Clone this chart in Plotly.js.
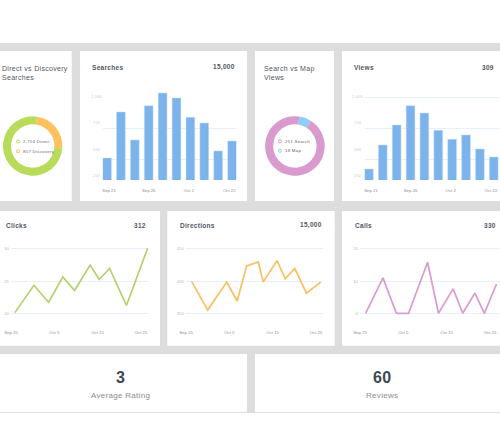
<!DOCTYPE html>
<html><head><meta charset="utf-8">
<script src="https://cdn.plot.ly/plotly-3.0.1.min.js"></script>
<style>
html,body{margin:0;padding:0;background:#fff}
#chart{width:500px;height:442px}
.annotation-text{letter-spacing:.3px}
</style></head><body><div id="chart"></div>
<script>
const barTicks = ["Sep 21","Sep 26","Oct 2","Oct 22"];
const barTickPos = [0.15,3.0,5.9,8.8];
const barIdx = [0,1,2,3,4,5,6,7,8,9];
const searches = [508,879,653,930,1032,992,836,790,565,645];
const views = [419,613,774,930,871,731,659,694,581,516];
const searchGrid = [750,500];
const viewGrid = [1000,750,500];
const barLabels = ["1,000","750","500","250"];

const lineTicks = ["Sep 25","Oct 5","Oct 15","Oct 25"];
const lineTickPos = [0,10,20,30];

const clickDays = [0.9,5.3,8.7,12,14.7,18.3,20.4,22.8,26.7,31.6];
const clicks = [20.1,24.3,21.7,25.6,23.5,27.4,25.2,26.9,21.2,30];
const clickTicks = [20,24.9,30], clickTickText = ["20","25","30"];

const dirDays = [1.3,5,9.4,11.8,14,15,16.7,17.8,21,22.9,25.1,27.8,31.1];
const directions = [399,355,398,369,423,425,429,398,431,403,419,381,398];
const dirTicks = [350,398.6,450], dirTickText = ["350","400","450"];

const callDays = [1.3,5.3,8.4,11.2,15.6,18.1,21.5,23.7,26.5,28.7,31.5];
const calls = [0,10.9,0,0,15.7,0,7.5,0,6.2,0,9];
const callTicks = [0,9.7,20], callTickText = ["0","10","20"];

const directLabels = ["857 Discovery","2,714 Direct"];
const directValues = [857,2714];
const mapLabels = ["18 Map","251 Search"];
const mapValues = [18,251];

const GREEN="#b8dc5a", ORANGE="#fdc25f", PINK="#d99ace", SKY="#8ccdfb", BLUE="#7bb3ea";
const GRID="#e8eff8", DARK="#505862";

const W=500,H=442;
const dx=(a,b)=>[a/W,b/W];
const dy=(top,bottom)=>[1-bottom/H,1-top/H];
const traces=[],shapes=[],annotations=[];
const layout={width:W,height:H,margin:{l:0,r:0,t:0,b:0},paper_bgcolor:"#fff",plot_bgcolor:"rgba(0,0,0,0)",
  showlegend:false,hovermode:false,font:{family:"Liberation Sans, Arial, sans-serif"},shapes,annotations};

function rect(x0,y0,x1,y1,color){shapes.push({type:"rect",xref:"paper",yref:"paper",layer:"below",
  x0:x0/W,x1:x1/W,y0:1-y1/H,y1:1-y0/H,fillcolor:color,line:{width:0}});}
function text(t,x,y,size,color,anchor,bold){annotations.push({text:bold?"<b>"+t+"</b>":t,xref:"paper",yref:"paper",x:x/W,y:1-y/H,
  xanchor:anchor||"left",yanchor:"middle",showarrow:false,font:{size,color},borderpad:0});}

rect(0,43,500,413,"#dddddd");
[[-5,51,71.7,201],[80,51,247,201],[255,51,334,201],[342,51,505,201],
 [-5,211,160,345.7],[167.3,211,334.7,345.7],[342,211,505,345.7],
 [-5,354,247,412],[255,354,505,412]].forEach(c=>rect(c[0],c[1],c[2],c[3],"#fff"));

function axisPair(n,xa,ya){const s=n===1?"":n;layout["xaxis"+s]=Object.assign({anchor:"y"+s,showline:false,zeroline:false,showgrid:false,ticklen:0,fixedrange:true},xa);
 layout["yaxis"+s]=Object.assign({anchor:"x"+s,showline:false,zeroline:false,showgrid:true,gridcolor:GRID,gridwidth:1,ticklen:0,fixedrange:true},ya);}

function barChart(n,vals,grid,left,right,xmax,labelX){
 const s=n===1?"":n;
 traces.push({type:"bar",x:barIdx,y:vals,xaxis:"x"+s,yaxis:"y"+s,marker:{color:BLUE,line:{color:"#c6dcf4",width:0.5}},hoverinfo:"skip"});
 axisPair(n,{domain:dx(left,right),range:[-0.31,xmax],tickmode:"array",tickvals:barTickPos,ticktext:barTicks,
   tickfont:{size:4.3,color:"#8d8d8d"},ticklabelstandoff:7},
  {domain:dy(90,180),range:[330.6,1056.5],tickmode:"array",tickvals:grid,showticklabels:false});
 [97,123,150,176].forEach((y,i)=>text(barLabels[i],labelX,y,3.8,"#c8c8c8","center"));
}
layout.bargap=0.37;
barChart(1,searches,searchGrid,102.7,236.4,9.31,96);
barChart(2,views,viewGrid,364.6,500,9.45,357);

function lineChart(n,xs,ys,color,left,right,xmax,yr,tv,tt){
 const s=n;
 traces.push({type:"scatter",mode:"lines",x:xs,y:ys,xaxis:"x"+s,yaxis:"y"+s,line:{color,width:1.7},hoverinfo:"skip"});
 axisPair(n,{domain:dx(left,right),range:[0,xmax],tickmode:"array",tickvals:lineTickPos,ticktext:lineTicks,
   tickfont:{size:4.3,color:"#8d8d8d"},ticklabelstandoff:13},
  {domain:dy(245,316),range:yr,tickmode:"array",tickvals:tv,ticktext:tt,tickfont:{size:4.3,color:"#bcbcbc"},ticklabelstandoff:1});
}
lineChart(3,clickDays,clicks,"#b6cf6f",11,148.5,31.8,[19.58,30.5],clickTicks,clickTickText);
lineChart(4,dirDays,directions,"#fbbf5f",186,322.5,31.5,[345.9,455],dirTicks,dirTickText);
lineChart(5,callDays,calls,"#da9bd0",360,500,32.3,[-0.83,21],callTicks,callTickText);

function donut(labels,values,colors,x0,x1,rot){traces.push({type:"pie",labels,values,sort:false,direction:"clockwise",rotation:rot,hole:0.73,
  domain:{x:dx(x0,x1),y:dy(116.2,175.8)},marker:{colors,line:{width:0}},textinfo:"none",hoverinfo:"skip"});}
donut(directLabels,directValues,[ORANGE,GREEN],3,62.4,8.5);
donut(mapLabels,mapValues,[SKY,PINK],265,324.8,8.7);

function legendRow(mx,y,color,t){shapes.push({type:"circle",xref:"paper",yref:"paper",x0:(mx-1.5)/W,x1:(mx+1.5)/W,y0:1-(y+1.5)/H,y1:1-(y-1.5)/H,
   fillcolor:"#fff",line:{color,width:1}});text(t,mx+4,y,4.3,"#5a5f66");}
legendRow(18,141.5,GREEN,directLabels[1]);
legendRow(18,151.2,ORANGE,directLabels[0]);
legendRow(280,141.3,PINK,mapLabels[1]);
legendRow(280,150.8,SKY,mapLabels[0]);

text("Direct vs Discovery",1,68.5,7,DARK);
text("Searches",1,77,7,DARK);
text("Search vs Map",263,68.5,7,DARK);
text("Views",263,77,7,DARK);
text("Searches",91,67.5,6.5,DARK,"left",true);
text("15,000",235.5,67,6.5,DARK,"right",true);
text("Views",353,67.5,6.5,DARK,"left",true);
text("309",495,67,6.5,DARK,"right",true);
text("Clicks",5,225.5,6.5,DARK,"left",true);
text("312",146.5,225.5,6.5,DARK,"right",true);
text("Directions",179,225.5,6.5,DARK,"left",true);
text("15,000",322.5,225.5,6.5,DARK,"right",true);
text("Calls",354,225.5,6.5,DARK,"left",true);
text("330",496.5,225.5,6.5,DARK,"right",true);
text("3",120,377.5,16,"#3f4752","center",true);
text("Average Rating",120.5,395,8,"#8b8b8b","center");
text("60",381.5,377.5,16,"#3f4752","center",true);
text("Reviews",382,395,8,"#8b8b8b","center");

Plotly.newPlot("chart",traces,layout,{staticPlot:true,displayModeBar:false});
</script></body></html>
